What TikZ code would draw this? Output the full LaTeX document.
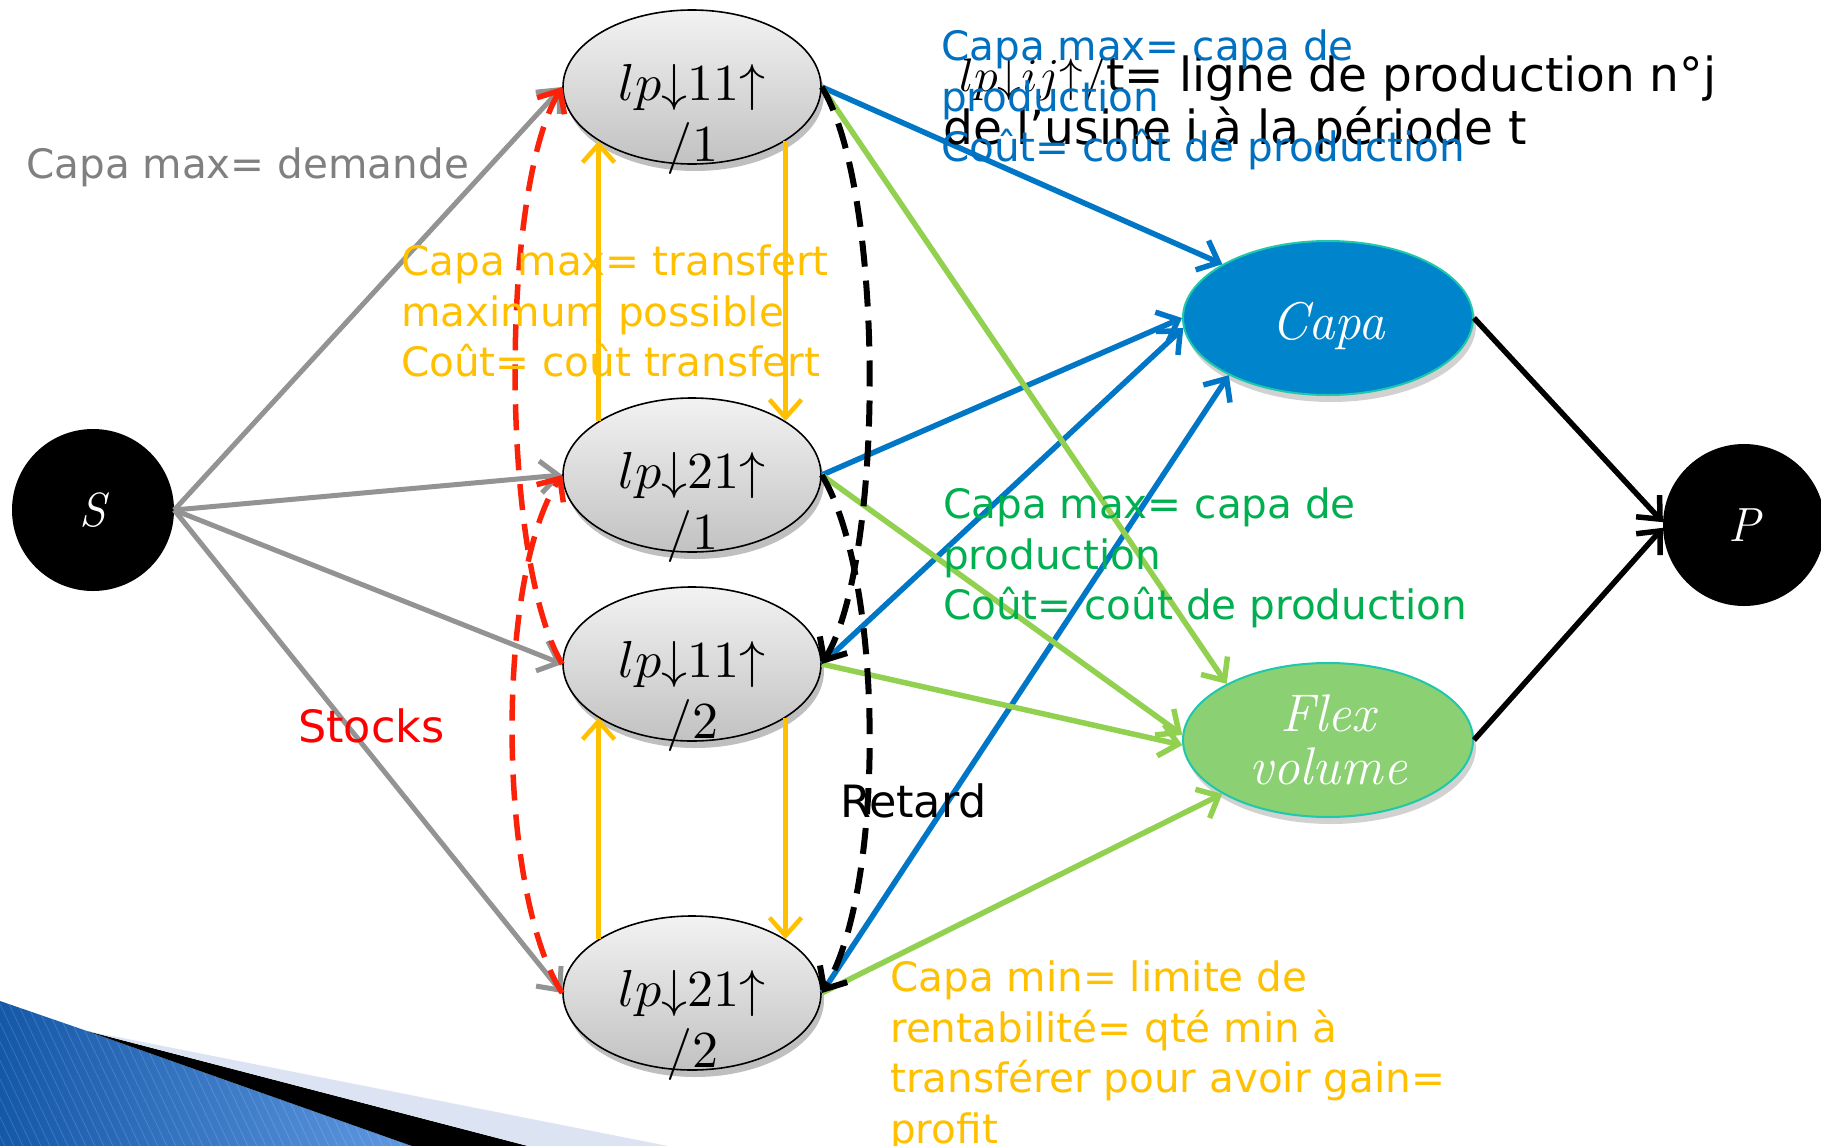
\documentclass[tikz,border=0pt]{standalone}
\usepackage{fontspec}
\usepackage{amssymb}
\usepackage{graphicx}
\newfontfamily\lab{DejaVu Sans}
\usetikzlibrary{arrows.meta,shadows,shapes.geometric}
\definecolor{cgray}{RGB}{128,128,128}
\definecolor{ygold}{RGB}{255,192,0}
\definecolor{tblue}{RGB}{0,112,192}
\definecolor{tgreen}{RGB}{0,176,80}
\definecolor{lblue}{RGB}{0,118,199}
\definecolor{lgreen}{RGB}{146,208,80}
\definecolor{capafill}{RGB}{0,132,204}
\definecolor{flexfill}{RGB}{140,208,116}
\definecolor{tealb}{RGB}{30,200,170}
\definecolor{redd}{RGB}{250,35,10}
\definecolor{wedgeA}{RGB}{20,88,168}
\definecolor{wedgeB}{RGB}{95,152,225}
\definecolor{lav}{RGB}{220,227,242}
\begin{document}
\begin{tikzpicture}[x=1pt,y=-1pt,
  lbl/.style={font=\lab\fontsize{40.5}{50.5}\selectfont, inner sep=0pt},
  bigl/.style={font=\lab\fontsize{44.5}{50}\selectfont, inner sep=0pt},
  blk/.style={font=\lab\fontsize{47}{53}\selectfont, inner sep=0pt},
  lpnode/.style={ellipse, draw=black, line width=1.6pt, top color=gray!10, bottom color=gray!48,
    minimum width=258pt, minimum height=154pt, inner sep=0pt,
    drop shadow={shadow xshift=3pt, shadow yshift=-7pt, opacity=0.25, fill=black}},
  sub/.style={yshift=-61pt, inner sep=0pt},
  endnode/.style={circle, fill=black, minimum size=162pt, inner sep=0pt, text=white,
    font=\fontsize{48}{50}\selectfont\itshape},
  bignode/.style={ellipse, line width=2pt, draw=tealb, minimum width=290pt, minimum height=154pt,
    inner sep=0pt, text=white, align=center, font=\fontsize{53}{53}\selectfont\itshape,
    drop shadow={shadow xshift=3pt, shadow yshift=-7pt, opacity=0.18, fill=black}},
  tip/.style={-{Straight Barb[length=18pt,width=32pt]}},
  gr/.style={tip, draw=gray!85, line width=5pt},
  bl/.style={tip, draw=lblue, line width=5.5pt},
  gn/.style={tip, draw=lgreen, line width=5.5pt},
  yl/.style={tip, draw=ygold, line width=4.5pt},
  bk/.style={tip, draw=black, line width=5.5pt},
  stk/.style={tip, draw=redd, line width=5.5pt, dash pattern=on 26pt off 14pt},
  ret/.style={tip, draw=black, line width=6pt, dash pattern=on 26pt off 14pt}]
\useasboundingbox (0,0) rectangle (1821,1146);
\fill[white] (0,0) rectangle (1821,1146);
% decorative wedge
\shade[left color=wedgeA, right color=wedgeB] (0,1001) -- (87,1031) -- (412,1146) -- (0,1146) -- cycle;
\begin{scope}
\clip (0,1001) -- (87,1031) -- (412,1146) -- (0,1146) -- cycle;
\foreach \i in {-200,-191,...,420} \draw[white, opacity=0.15, line width=0.8pt] (\i,1000) -- (\i+70,1146);
\end{scope}
\fill[black] (87,1031) -- (528,1146) -- (412,1146) -- cycle;
\fill[lav] (87,1031) -- (668,1146) -- (528,1146) -- cycle;
% nodes
\node[endnode] (S) at (93,510) {S};
\node[endnode] (P) at (1744,525) {P};
\node[lpnode, label={[sub]center:\scalebox{5.2}{$/1$}}] (L11a) at (692,87) {\scalebox{5.2}{$lp{\downarrow}11{\uparrow}$}};
\node[lpnode, label={[sub]center:\scalebox{5.2}{$/1$}}] (L21a) at (692,475) {\scalebox{5.2}{$lp{\downarrow}21{\uparrow}$}};
\node[lpnode, label={[sub]center:\scalebox{5.2}{$/2$}}] (L11b) at (692,664) {\scalebox{5.2}{$lp{\downarrow}11{\uparrow}$}};
\node[lpnode, label={[sub]center:\scalebox{5.2}{$/2$}}] (L21b) at (692,993) {\scalebox{5.2}{$lp{\downarrow}21{\uparrow}$}};
\node[bignode, fill=capafill] (Capa) at (1328,318) {\raisebox{-21pt}[0pt][0pt]{Capa}};
\node[bignode, fill=flexfill] (Flex) at (1328,740) {Flex\\volume};
% gray source arcs
\draw[gr] (S.east) -- (L11a.west);
\draw[gr] (S.east) -- (L21a.west);
\draw[gr] (S.east) -- (L11b.west);
\draw[gr] (S.east) -- (L21b.west);
% transfers
\draw[yl] (L21a.150) -- (L11a.210);
\draw[yl] (L11a.330) -- (L21a.30);
\draw[yl] (L21b.150) -- (L11b.210);
\draw[yl] (L11b.330) -- (L21b.30);
% production arcs
\draw[bl] (L11a.east) -- (Capa.153);
\draw[bl] (L21a.east) -- (Capa.180);
\draw[bl] (L11b.east) -- (Capa.184);
\draw[bl] (L21b.east) -- (Capa.210);
\draw[gn] (L11a.east) -- (Flex.151);
\draw[gn] (L21a.east) -- (Flex.178);
\draw[gn] (L11b.east) -- (Flex.182);
\draw[gn] (L21b.east) -- (Flex.207);
\draw[bk] (Capa.east) -- (P.178);
\draw[bk] (Flex.east) -- (P.182);
% stocks and delays
\draw[stk] (L11b.west) .. controls (500,560) and (500,190) .. (L11a.west);
\draw[stk] (L21b.west) .. controls (496,890) and (496,575) .. (L21a.west);
\draw[ret] (L11a.east) .. controls (885,190) and (885,560) .. (L11b.east);
\draw[ret] (L21a.east) .. controls (885,580) and (885,890) .. (L21b.east);
% texts
\node[blk, anchor=north west, align=left] (tdef) at (943,56)
  {\hspace*{16pt}{\fontsize{10}{12}\selectfont\scalebox{4.7}{$lp{\downarrow}ij{\uparrow}/$}}t= ligne de production n°j\\de l’usine i à la période t};
\node[lbl, text=cgray, anchor=base west] (tdem) at (26,178) {Capa max= demande};
\node[lbl, text=tblue, anchor=north west, align=left] (tprod) at (941,30)
  {Capa max= capa de\\production\\Coût= coût de production};
\node[lbl, text=ygold, anchor=north west, align=left] (ttr) at (401,245)
  {Capa max= transfert\\maximum possible\\Coût= coût transfert};
\node[lbl, text=tgreen, anchor=north west, align=left] (tflex) at (943,488)
  {Capa max= capa de\\production\\Coût= coût de production};
\node[lbl, text=ygold, anchor=north west, align=left] (tmin) at (890,961)
  {Capa min= limite de\\rentabilité= qté min à\\transférer pour avoir gain=\\profit};
\node[bigl, text=red, anchor=base west] (tstk) at (298,742) {Stocks};
\node[bigl, text=black, anchor=base west] (tret) at (840,817) {Retard};
\end{tikzpicture}
\end{document}
